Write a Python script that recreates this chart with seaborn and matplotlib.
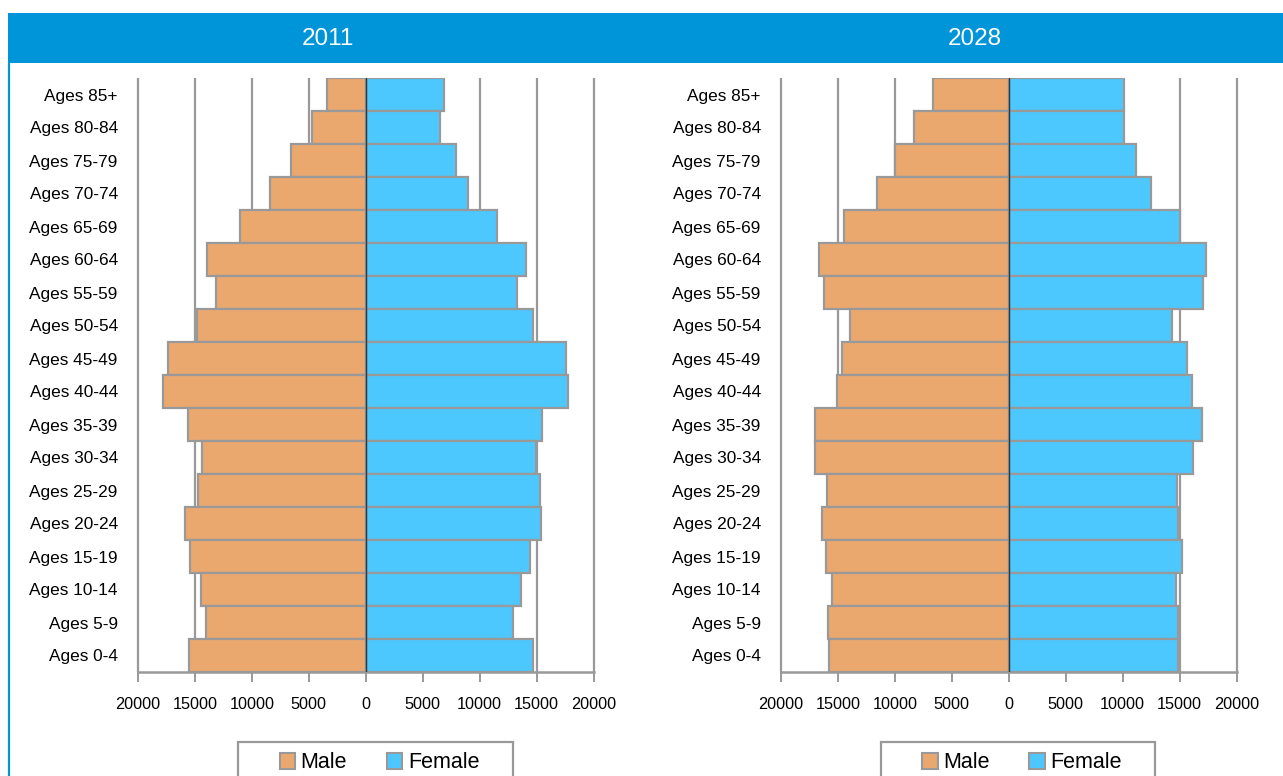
import matplotlib
matplotlib.use("Agg")
import matplotlib.pyplot as plt
from matplotlib.patches import Rectangle, Patch
from matplotlib.lines import Line2D
import seaborn as sns
import pandas as pd

# Age groups, listed from the top of the pyramid down
age_groups = ["Ages 85+", "Ages 80-84", "Ages 75-79", "Ages 70-74", "Ages 65-69",
              "Ages 60-64", "Ages 55-59", "Ages 50-54", "Ages 45-49", "Ages 40-44",
              "Ages 35-39", "Ages 30-34", "Ages 25-29", "Ages 20-24", "Ages 15-19",
              "Ages 10-14", "Ages 5-9", "Ages 0-4"]

male_2011 = [3400, 4700, 6600, 8450, 11000, 13950, 13150, 14850, 17400, 17800,
             15650, 14350, 14750, 15850, 15400, 14450, 14050, 15500]
female_2011 = [6900, 6500, 7950, 9000, 11500, 14050, 13250, 14650, 17550, 17750,
               15450, 14950, 15300, 15350, 14400, 13650, 12950, 14700]

male_2028 = [6650, 8300, 10000, 11600, 14450, 16700, 16200, 13900, 14600, 15100,
             17050, 17050, 15950, 16400, 16050, 15550, 15850, 15800]
female_2028 = [10100, 10100, 11200, 12450, 15000, 17300, 17050, 14300, 15650, 16050,
               16950, 16200, 14800, 14900, 15250, 14700, 14900, 14900]

years = ["2011", "2028"]
sexes = ["Male", "Female"]
x_ticks = [-20000, -15000, -10000, -5000, 0, 5000, 10000, 15000, 20000]

MALE_COLOR = "#EAA86F"
FEMALE_COLOR = "#4CC8FE"
EDGE = "#999999"
BAND = "#0095D8"
FONT = ["Liberation Sans", "DejaVu Sans"]

sns.set_theme(style="white")
plt.rcParams["font.family"] = FONT

W, H = 1283, 776
fig = plt.figure(figsize=(W / 100, H / 100), dpi=100)
fig.patch.set_facecolor("white")


def fx(px):
    return px / W


def fy(py):
    return 1 - py / H


# Header band with the year captions, and the frame line on the left
fig.patches.append(Rectangle((fx(8), fy(63)), 1 - fx(8), fy(13) - fy(63),
                             transform=fig.transFigure, facecolor=BAND,
                             edgecolor="none", zorder=0))
fig.lines.append(Line2D([fx(9), fx(9)], [0, fy(63)], transform=fig.transFigure,
                        color=BAND, lw=1.6))
fig.text(fx(328), fy(39), years[0], color="white", fontsize=17.5,
         ha="center", va="center")
fig.text(fx(975), fy(39), years[1], color="white", fontsize=17.5,
         ha="center", va="center")

panels = [
    (years[0], male_2011, female_2011, 138, 238, 513),
    (years[1], male_2028, female_2028, 781, 881, 1155),
]

for year, male, female, left_px, box_l, box_r in panels:
    df = pd.DataFrame({
        "age": age_groups * 2,
        "sex": ["Male"] * len(age_groups) + ["Female"] * len(age_groups),
        "value": [-v for v in male] + list(female),
    })
    ax = fig.add_axes([fx(left_px), fy(672), fx(455.5), fy(78) - fy(672)])
    sns.barplot(data=df, x="value", y="age", hue="sex", order=age_groups,
                hue_order=sexes, palette=[MALE_COLOR, FEMALE_COLOR],
                dodge=False, width=1.0, edgecolor=EDGE, linewidth=1.6,
                saturation=1, legend=False, ax=ax, zorder=2)

    ax.set_xlim(-20000, 20000)
    ax.set_ylim(len(age_groups) - 0.5, -0.5)
    ax.vlines(x_ticks, -0.5, len(age_groups) - 0.5, colors=EDGE, lw=1.6,
              zorder=0, clip_on=False)
    ax.axvline(0, color="#333333", lw=1.0, zorder=3)

    ax.set_xticks(x_ticks)
    ax.set_xticklabels([str(abs(t)) for t in x_ticks], fontsize=11.7)
    ax.tick_params(axis="x", bottom=True, length=7, width=1.4, color=EDGE,
                   pad=11, labelcolor="black")
    ax.tick_params(axis="y", left=False, length=0, pad=14.5, labelsize=12.4,
                   labelcolor="black")
    ax.set_xlabel("")
    ax.set_ylabel("")
    for side in ("top", "left", "right"):
        ax.spines[side].set_visible(False)
    ax.spines["bottom"].set_color(EDGE)
    ax.spines["bottom"].set_linewidth(1.8)
    ax.set_facecolor("none")

    # Legend frame, running past the lower edge of the figure
    fig.patches.append(Rectangle((fx(box_l), fy(800)), fx(box_r - box_l),
                                 fy(742) - fy(800), transform=fig.transFigure,
                                 facecolor="white", edgecolor=EDGE, lw=1.6,
                                 zorder=1))
    handles = [Patch(facecolor=MALE_COLOR, edgecolor=EDGE, lw=1.5),
               Patch(facecolor=FEMALE_COLOR, edgecolor=EDGE, lw=1.5)]
    fig.legend(handles, sexes, loc="center",
               bbox_to_anchor=(fx((box_l + box_r) / 2 + 4), fy(763)), ncol=2,
               frameon=False, fontsize=15.5, labelcolor="black",
               handlelength=0.72, handleheight=0.72, handletextpad=0.25,
               columnspacing=1.85, borderpad=0, borderaxespad=0)

fig.savefig("out.png", dpi=100, facecolor="white")
